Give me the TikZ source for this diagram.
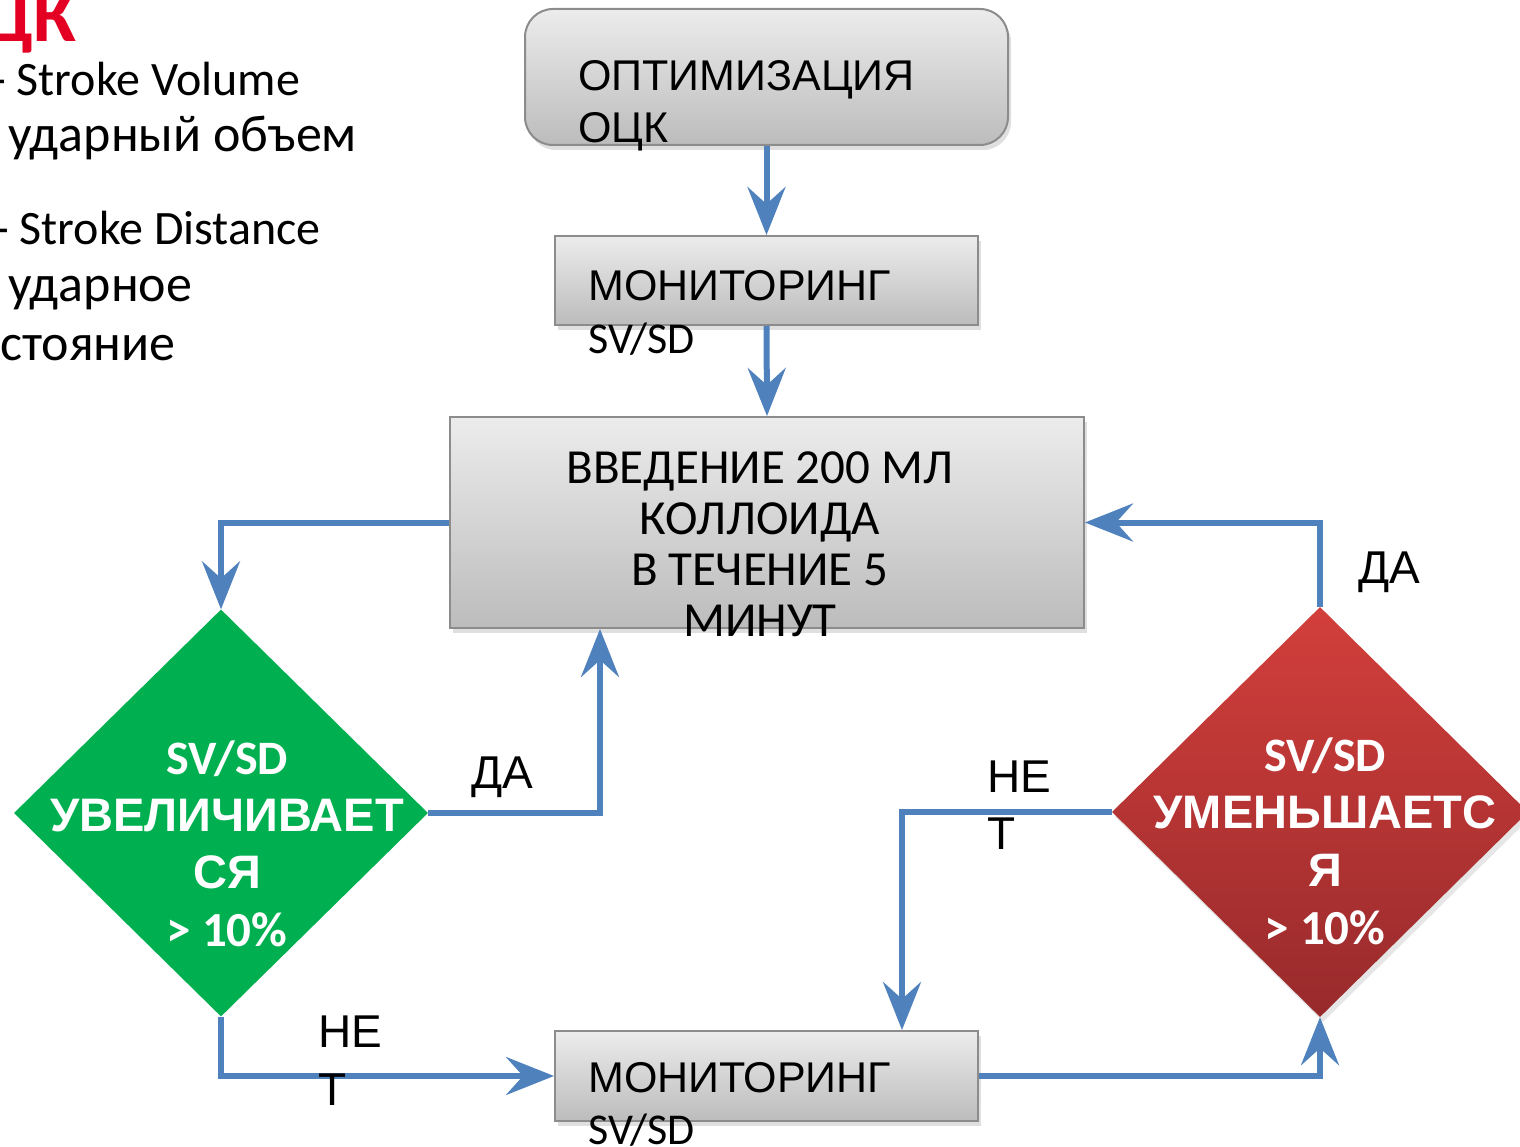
\documentclass[tikz,border=0pt]{standalone}
\usepackage{fontspec}
\setmainfont{Liberation Sans}
\newfontfamily\calfont{Carlito}
\usetikzlibrary{arrows.meta,shapes.geometric,shadows}
\definecolor{ablue}{RGB}{79,129,189}
\definecolor{bgreen}{RGB}{0,176,80}
\definecolor{rtop}{RGB}{210,63,59}
\definecolor{rbot}{RGB}{152,42,44}
\definecolor{btop}{RGB}{236,236,236}
\definecolor{bbot}{RGB}{188,188,188}
\definecolor{bord}{RGB}{140,140,140}
\definecolor{tred}{RGB}{227,0,34}
\tikzset{
  box/.style={draw=bord, line width=2, top color=btop, bottom color=bbot, inner sep=0,
    drop shadow={shadow xshift=3pt, shadow yshift=-5pt, opacity=0.25}},
  conn/.style={draw=ablue, line width=6, -{Stealth[length=48pt,width=38pt,inset=17pt]}},
  arl/.style={inner sep=0, font=\fontsize{43}{52}\selectfont},
  lab/.style={inner sep=0, anchor=base west, font=\fontsize{46}{52}\selectfont},
  cal/.style={inner sep=0, font=\calfont\fontsize{44}{52}\selectfont},
  side/.style={inner sep=0, anchor=base west, font=\calfont\fontsize{48}{56}\selectfont},
  sidecy/.style={inner sep=0, anchor=base west, font=\calfont\fontsize{52}{56}\selectfont},
  dtxt/.style={inner sep=0, anchor=base, text=white},
}
\begin{document}
\begin{tikzpicture}[x=1pt,y=-1pt]
\useasboundingbox (0,0) rectangle (1520,1147);
% side text
\node[inner sep=0, anchor=base west, text=tred, font=\calfont\bfseries\fontsize{76}{80}\selectfont] (hd) at (-17,42) {ЦК};
\node[side] (s1) at (-9,96) {- Stroke Volume};
\node[sidecy] (s2) at (8,152) {ударный объем};
\node[side] (s3) at (-6,245) {- Stroke Distance};
\node[sidecy] (s4) at (8,302) {ударное};
\node[sidecy] (s5) at (0,360) {стояние};
% boxes
\node[box, rounded corners=28, minimum width=483, minimum height=136] (top) at (766.5,77) {};
\node[box, minimum width=423, minimum height=89] (m1) at (766.5,280.5) {};
\node[box, minimum width=634, minimum height=211] (big) at (767,522.5) {};
\node[box, minimum width=423, minimum height=90] (m2) at (766.5,1076) {};
% diamonds
\node[diamond, fill=bgreen, inner sep=0, minimum width=414, minimum height=407] (g) at (221,813) {};
\node[diamond, top color=rtop, bottom color=rbot, inner sep=0, minimum width=416, minimum height=410,
  drop shadow={shadow xshift=3pt, shadow yshift=-5pt, opacity=0.2}] (r) at (1320,812) {};
% box texts
\node[arl, anchor=base west] (t1a) at (578,91) {ОПТИМИЗАЦИЯ};
\node[arl, anchor=base west] (t1b) at (578,143) {ОЦК};
\node[arl, anchor=base west] (t2a) at (588,301) {МОНИТОРИНГ};
\node[cal, anchor=base west] (t2b) at (588,353) {SV/SD};
\node[arl, anchor=base west] (t4a) at (588,1092) {МОНИТОРИНГ};
\node[cal, anchor=base west] (t4b) at (588,1144) {SV/SD};
\begin{scope}[every node/.style={inner sep=0, anchor=base, font=\calfont\fontsize{49}{52}\selectfont}]
\node (t3a) at (760,483) {ВВЕДЕНИЕ 200 МЛ};
\node (t3b) at (760,534) {КОЛЛОИДА};
\node (t3c) at (760,585) {В ТЕЧЕНИЕ 5};
\node (t3d) at (760,636) {МИНУТ};
\end{scope}
% diamond texts
\node[dtxt, font=\calfont\bfseries\fontsize{48}{52}\selectfont] (ga) at (227,774) {SV/SD};
\node[dtxt, font=\bfseries\fontsize{47}{52}\selectfont] (gb) at (227,831) {УВЕЛИЧИВАЕТ};
\node[dtxt, font=\bfseries\fontsize{47}{52}\selectfont] (gc) at (227,888) {СЯ};
\node[dtxt, font=\calfont\bfseries\fontsize{49}{52}\selectfont] (gd) at (227,946) {> 10\%};
\node[dtxt, font=\calfont\bfseries\fontsize{48}{52}\selectfont] (ra) at (1325,771) {SV/SD};
\node[dtxt, font=\bfseries\fontsize{47}{52}\selectfont] (rb) at (1325,828) {УМЕНЬШАЕТС};
\node[dtxt, font=\bfseries\fontsize{47}{52}\selectfont] (rc) at (1325,886) {Я};
\node[dtxt, font=\calfont\bfseries\fontsize{49}{52}\selectfont] (rd) at (1325,944) {> 10\%};
% connectors
\draw[conn] (top.south) -- (m1.north);
\draw[conn] (m1.south) -- (big.north);
\draw[conn] (big.west) -| (g.north);
\draw[conn] (g.east) -| ([xshift=151]big.south west);
\draw[conn] (g.south) |- (m2.west);
\draw[conn] (m2.east) -| (r.south);
\draw[conn] (r.west) -| ([xshift=348]m2.north west);
\draw[conn] (r.north) |- (big.east);
% labels
\node[lab] (l1) at (471,788) {ДА};
\node[lab] (l2a) at (318,1047) {НЕ};
\node[lab] (l2b) at (318,1105) {Т};
\node[lab] (l3a) at (987,792) {НЕ};
\node[lab] (l3b) at (987,849) {Т};
\node[lab] (l4) at (1358,583) {ДА};
\end{tikzpicture}
\end{document}
